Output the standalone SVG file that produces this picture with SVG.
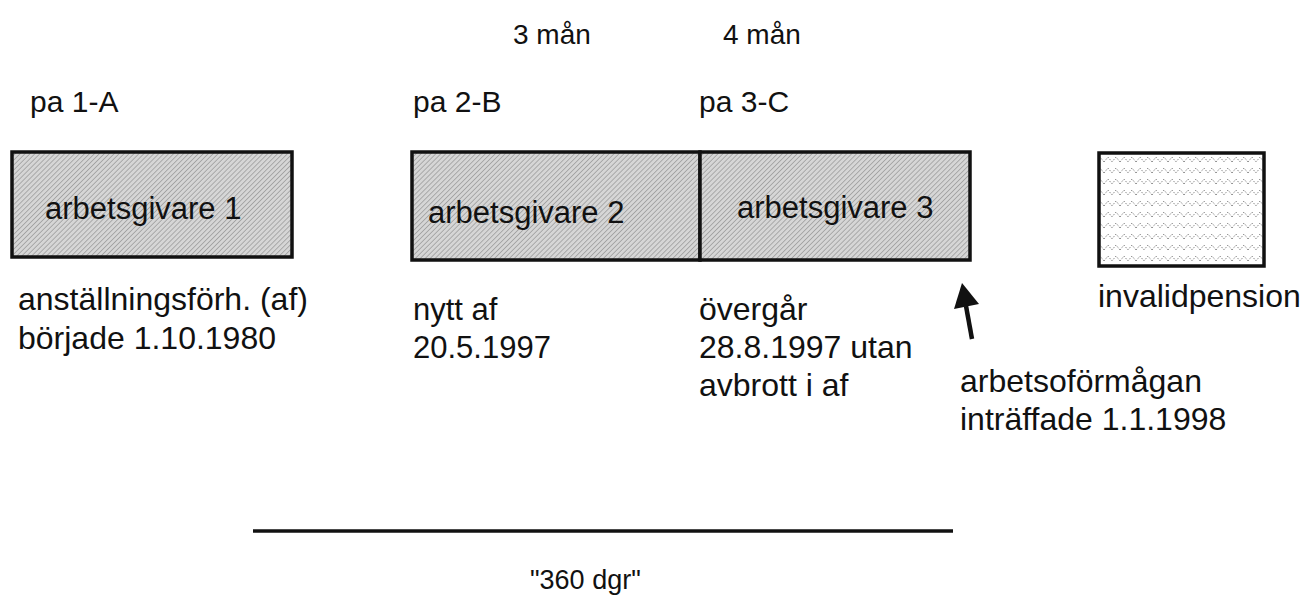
<svg xmlns="http://www.w3.org/2000/svg" width="1303" height="599" viewBox="0 0 1303 599">
<style>
text{font-family:"Liberation Sans",Arial,sans-serif;font-size:31px;fill:#111}
.sm{font-size:28px}
.pa{font-size:30px}
.lg{font-size:32px}
.box{stroke:#111;stroke-width:3.5}
</style>
<defs>
<pattern id="hatch" width="3.5" height="3.5" patternUnits="userSpaceOnUse" patternTransform="rotate(45)">
<rect width="3.5" height="3.5" fill="#d6d6d6"/>
<line x1="0" y1="0" x2="0" y2="3.5" stroke="#8c8c8c" stroke-width="1.2"/>
</pattern>
<pattern id="zig" width="16" height="11" patternUnits="userSpaceOnUse">
<rect width="16" height="11" fill="#fff"/>
<path d="M0,8 L4,3 L8,8 L12,3 L16,8" fill="none" stroke="#777" stroke-width="0.9" stroke-dasharray="1.5,1.5"/>
</pattern>
</defs>
<g id="labels-top">
<text class="sm" x="513" y="44">3 mån</text>
<text class="sm" x="723" y="44">4 mån</text>
<text class="pa" x="30" y="112">pa 1-A</text>
<text class="pa" x="413" y="112">pa 2-B</text>
<text class="pa" x="699" y="112">pa 3-C</text>
</g>
<g id="node-ag1">
<rect class="box" x="12" y="152" width="280" height="105" fill="url(#hatch)"/>
<text x="45" y="219">arbetsgivare 1</text>
</g>
<g id="node-ag2">
<rect class="box" x="412" y="152" width="288" height="108" fill="url(#hatch)"/>
<text x="428" y="223">arbetsgivare 2</text>
</g>
<g id="node-ag3">
<rect class="box" x="700" y="152" width="270" height="108" fill="url(#hatch)"/>
<text x="737" y="218">arbetsgivare 3</text>
</g>
<g id="node-invalid">
<rect class="box" x="1099" y="153" width="165" height="113" fill="url(#zig)"/>
<text class="lg" x="1098" y="307">invalidpension</text>
</g>
<g id="notes">
<text class="lg" x="18" y="310">anställningsförh. (af)</text>
<text class="lg" x="18" y="349">började 1.10.1980</text>
<text x="413" y="320">nytt af</text>
<text x="413" y="358">20.5.1997</text>
<text class="lg" x="699" y="320">övergår</text>
<text class="lg" x="699" y="358">28.8.1997 utan</text>
<text class="lg" x="699" y="396">avbrott i af</text>
<text class="lg" x="960" y="392">arbetsoförmågan</text>
<text class="lg" x="960" y="430">inträffade 1.1.1998</text>
<text x="530" y="589" style="font-size:27px">"360 dgr"</text>
</g>
<g id="connectors">
<path d="M972,339 L966,306" stroke="#111" stroke-width="4.5" fill="none"/>
<path d="M962,283 L954,309 L979,304 Z" fill="#111"/>
<line x1="253" y1="531" x2="953" y2="531" stroke="#111" stroke-width="3.5"/>
</g>
</svg>
